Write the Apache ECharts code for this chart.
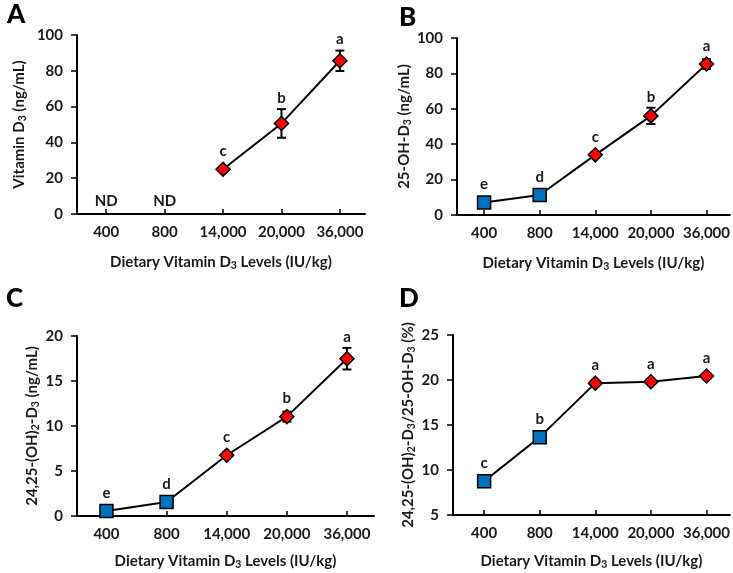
<!DOCTYPE html>
<html><head><meta charset="utf-8">
<script src="https://cdn.jsdelivr.net/npm/echarts@6/dist/echarts.min.js"></script>
<style>html,body{margin:0;padding:0;background:#fff}#c{width:733px;height:573px}</style>
</head><body><div id="c"></div>
<script>
// ---- data ----
const categories = ['400', '800', '14,000', '20,000', '36,000'];
const markerGroup = ['square', 'square', 'diamond', 'diamond', 'diamond'];

const vitD3 = [null, null, 25.0, 50.6, 85.6];
const vitD3Err = [0, 0, 0, 8.0, 5.7];
const vitD3Letters = ['ND', 'ND', 'c', 'b', 'a'];

const ohD3 = [7.1, 11.3, 34.0, 56.0, 85.3];
const ohD3Err = [0, 0, 1.2, 4.6, 2.7];
const ohD3Letters = ['e', 'd', 'c', 'b', 'a'];

const dihD3 = [0.56, 1.56, 6.75, 11.04, 17.48];
const dihD3Err = [0, 0, 0.35, 0.55, 1.2];
const dihD3Letters = ['e', 'd', 'c', 'b', 'a'];

const ratio = [8.75, 13.65, 19.65, 19.8, 20.45];
const ratioErr = [0, 0, 0, 0, 0];
const ratioLetters = ['c', 'b', 'a', 'a', 'a'];

// ---- layout / style ----
const FONT = 'Lato';
const TXT = '#1a1a1a';
const panels = [
  { tag: 'A', vals: vitD3, err: vitD3Err, letters: vitD3Letters, ymin: 0, ymax: 100, yint: 20,
    yname: 'Vitamin D{s|3} (ng/mL)', grid: { left: 77, top: 35, width: 288, height: 179 },
    xmin: -0.5, xmax: 4.43, yGap: 49, xGap: 40, tagPos: { left: 2, top: -3 } },
  { tag: 'B', vals: ohD3, err: ohD3Err, letters: ohD3Letters, ymin: 0, ymax: 100, yint: 20,
    yname: '25-OH-D{s|3} (ng/mL)', grid: { left: 457, top: 38, width: 275, height: 177 },
    xmin: -0.487, xmax: 4.42, yGap: 44, xGap: 40, tagPos: { left: 394, top: 0 } },
  { tag: 'C', vals: dihD3, err: dihD3Err, letters: dihD3Letters, ymin: 0, ymax: 20, yint: 5,
    yname: '24,25-(OH){s|2}-D{s|3} (ng/mL)', grid: { left: 77, top: 336, width: 297, height: 180 },
    xmin: -0.49, xmax: 4.45, yGap: 36, xGap: 37, tagPos: { left: 1, top: 281 } },
  { tag: 'D', vals: ratio, err: ratioErr, letters: ratioLetters, ymin: 5, ymax: 25, yint: 5,
    yname: '24,25-(OH){s|2}-D{s|3}/25-OH-D{s|3} (%)', grid: { left: 453, top: 335, width: 279, height: 180 },
    xmin: -0.56, xmax: 4.42, yGap: 36, xGap: 38, tagPos: { left: 394, top: 281 } }
];

const richSub = {
  s: { fontSize: 10.5, fontWeight: 'bold', fontFamily: FONT, color: TXT, verticalAlign: 'bottom', padding: [6, 0, 0, 0] }
};
const idx = categories.map((c, i) => i);

function makeRenderer(p) {
  return function (params, api) {
    const i = params.dataIndex;
    const x = api.value(0);
    const v = p.vals[i];
    const e = p.err[i] || 0;
    const children = [];
    const base = v == null ? p.ymin : v;
    const pc = api.coord([x, base]);
    let labelY;
    if (v == null) {
      labelY = pc[1] - 13;
    } else {
      let top = pc[1] - 7;
      if (e > 0) {
        const hi = api.coord([x, v + e]);
        const lo = api.coord([x, v - e]);
        const cw = 4.5;
        const ls = { stroke: '#000', lineWidth: 2 };
        children.push({ type: 'line', shape: { x1: hi[0], y1: hi[1], x2: lo[0], y2: lo[1] }, style: ls });
        children.push({ type: 'line', shape: { x1: hi[0] - cw, y1: hi[1], x2: hi[0] + cw, y2: hi[1] }, style: ls });
        children.push({ type: 'line', shape: { x1: lo[0] - cw, y1: lo[1], x2: lo[0] + cw, y2: lo[1] }, style: ls });
        top = Math.min(top, hi[1]);
      }
      labelY = top - 11;
    }
    children.push({ type: 'text', z2: 10, style: { text: p.letters[i], x: pc[0], y: labelY, align: 'center',
      verticalAlign: 'middle', font: 'bold 15px ' + FONT, fill: TXT } });
    return { type: 'group', children };
  };
}

const option = { animation: false, backgroundColor: '#fff', title: [], grid: [], xAxis: [], yAxis: [], series: [] };

panels.forEach((p, k) => {
  option.title.push({ text: p.tag, left: p.tagPos.left, top: p.tagPos.top,
    textStyle: { fontFamily: FONT, fontWeight: 900, fontSize: 26, color: '#000' } });
  option.grid.push(Object.assign({ containLabel: false }, p.grid));
  option.xAxis.push({
    type: 'value', gridIndex: k, min: p.xmin, max: p.xmax,
    splitLine: { show: false },
    axisLine: { show: true, onZero: false, lineStyle: { color: '#000', width: 2 } },
    axisTick: { show: true, inside: true, length: 5, customValues: idx, lineStyle: { color: '#000', width: 1.5 } },
    axisLabel: { customValues: idx, formatter: v => categories[Math.round(v)], margin: 11,
      fontFamily: FONT, fontWeight: 'bold', fontSize: 15, color: TXT },
    name: 'Dietary Vitamin D{s|3} Levels (IU/kg)', nameLocation: 'middle', nameGap: p.xGap,
    nameTextStyle: { fontFamily: FONT, fontWeight: 'bold', fontSize: 15, color: TXT, verticalAlign: 'top', rich: richSub }
  });
  option.yAxis.push({
    type: 'value', gridIndex: k, min: p.ymin, max: p.ymax, interval: p.yint,
    splitLine: { show: false },
    axisLine: { show: true, onZero: false, lineStyle: { color: '#000', width: 2 } },
    axisTick: { show: true, length: 6, lineStyle: { color: '#000', width: 1.5 } },
    axisLabel: { margin: 14, fontFamily: FONT, fontWeight: 'bold', fontSize: 15, color: TXT },
    name: p.yname, nameLocation: 'middle', nameGap: p.yGap,
    nameTextStyle: { fontFamily: FONT, fontWeight: 'bold', fontSize: 15, color: TXT, rich: richSub }
  });
  option.series.push({
    type: 'custom', xAxisIndex: k, yAxisIndex: k, z: 1, clip: false,
    data: idx.map(i => [i, p.vals[i] == null ? p.ymin : p.vals[i]]),
    renderItem: makeRenderer(p)
  });
  option.series.push({
    type: 'line', xAxisIndex: k, yAxisIndex: k, z: 3,
    lineStyle: { color: '#000', width: 2 },
    connectNulls: false,
    data: idx.map(i => ({
      value: [i, p.vals[i] == null ? '-' : p.vals[i]],
      symbol: markerGroup[i] === 'square' ? 'rect' : 'diamond',
      symbolSize: markerGroup[i] === 'square' ? 13 : 14,
      itemStyle: { color: markerGroup[i] === 'square' ? '#0070C0' : '#FF0000', borderColor: '#000', borderWidth: 1.5 }
    }))
  });
});

const chart = echarts.init(document.getElementById('c'), null, { renderer: 'canvas' });
chart.setOption(option);
</script>
</body></html>
